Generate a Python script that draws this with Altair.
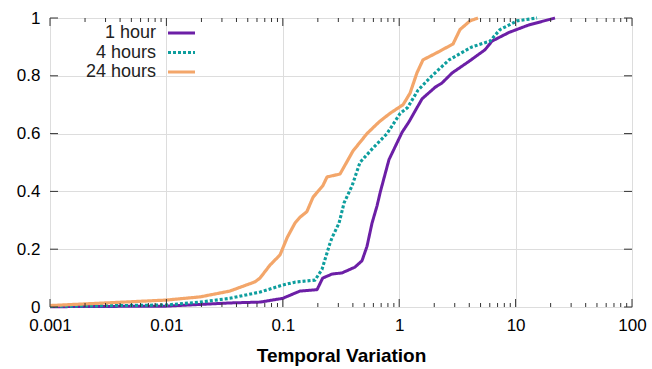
import altair as alt
import pandas as pd

series_names = ["1 hour", "4 hours", "24 hours"]
series_colors = ["#6c1fa6", "#0e9e9e", "#f3a66a"]

x_1h = [0.001, 0.01, 0.035, 0.064, 0.1, 0.14, 0.197, 0.22, 0.265, 0.323, 0.417, 0.479,
        0.529, 0.584, 0.645, 0.69, 0.817, 1.06, 1.21, 1.57, 2.03, 2.33, 2.85, 3.98,
        5.46, 6.27, 8.77, 13.0, 21.8]
y_1h = [0.001, 0.003, 0.014, 0.017, 0.03, 0.055, 0.06, 0.10, 0.114, 0.118, 0.138, 0.16,
        0.21, 0.29, 0.35, 0.40, 0.51, 0.605, 0.64, 0.72, 0.76, 0.775, 0.81, 0.85,
        0.89, 0.92, 0.95, 0.976, 1.0]

x_4h = [0.001, 0.01, 0.0195, 0.035, 0.064, 0.1, 0.127, 0.189, 0.217, 0.254, 0.265, 0.304,
        0.336, 0.394, 0.46, 0.595, 0.786, 1.02, 1.18, 1.45, 1.91, 2.68, 4.22, 6.02,
        7.35, 10.3, 15.3]
y_4h = [0.002, 0.007, 0.017, 0.03, 0.052, 0.076, 0.086, 0.093, 0.13, 0.22, 0.24, 0.29,
        0.36, 0.42, 0.50, 0.55, 0.60, 0.67, 0.69, 0.75, 0.80, 0.855, 0.90, 0.92,
        0.96, 0.99, 1.0]

x_24h = [0.001, 0.01, 0.0195, 0.035, 0.0577, 0.0637, 0.0776, 0.0946, 0.109, 0.127, 0.14,
         0.161, 0.182, 0.221, 0.24, 0.31, 0.401, 0.529, 0.67, 0.833, 1.08, 1.24, 1.42,
         1.6, 2.11, 2.9, 3.33, 4.06, 4.75]
y_24h = [0.005, 0.024, 0.035, 0.055, 0.087, 0.10, 0.145, 0.18, 0.24, 0.29, 0.31,
         0.33, 0.38, 0.42, 0.45, 0.46, 0.54, 0.60, 0.64, 0.67, 0.70, 0.74, 0.81,
         0.855, 0.88, 0.91, 0.96, 0.99, 1.0]

x_major = [0.001, 0.01, 0.1, 1, 10, 100]
x_minor = [d * m for d in [0.001, 0.01, 0.1, 1, 10] for m in range(2, 10)]
y_major = [0, 0.2, 0.4, 0.6, 0.8, 1]

W, H = 582, 289
FONT = "Liberation Sans"

rows = []
for name, xs, ys in zip(series_names, [x_1h, x_4h, x_24h], [y_1h, y_4h, y_24h]):
    for i, (a, b) in enumerate(zip(xs, ys)):
        rows.append({"series": name, "v": a, "cdf": b, "order": i})
df = pd.DataFrame(rows)

xscale = alt.Scale(type="log", domain=[0.001, 100], nice=False)
yscale = alt.Scale(domain=[0, 1], nice=False)
color = alt.Color("series:N", scale=alt.Scale(domain=series_names, range=series_colors), legend=None)
dash = alt.StrokeDash("series:N", scale=alt.Scale(domain=series_names, range=[[1, 0], [3, 2], [1, 0]]), legend=None)
width = alt.StrokeWidth("series:O", scale=alt.Scale(domain=series_names, range=[3, 3.2, 2.5]), legend=None)

lines = alt.Chart(df).mark_line(strokeCap="butt", strokeJoin="round").encode(
    x=alt.X("v:Q", scale=xscale,
            axis=alt.Axis(values=x_major, title="Temporal Variation", grid=True, ticks=False,
                          domain=False, labelExpr="format(datum.value, '~g')",
                          labelFontSize=17, labelPadding=10, titleFontSize=19,
                          titleFontWeight="bold", titlePadding=13, labelFlush=False)),
    y=alt.Y("cdf:Q", scale=yscale,
            axis=alt.Axis(values=y_major, title=None, grid=True, ticks=False, domain=False,
                          labelExpr="format(datum.value, '~g')", labelFontSize=17,
                          labelPadding=10)),
    color=color, strokeDash=dash, strokeWidth=width,
    order="order:Q",
    detail="series:N",
)

xmaj = pd.DataFrame({"v": x_major})
xmin = pd.DataFrame({"v": x_minor})
ymaj = pd.DataFrame({"t": y_major})

tick_color = "#333333"
xt = []
for d, ln in [(xmaj, 8), (xmin, 4)]:
    xt.append(alt.Chart(d).mark_rule(color=tick_color, strokeWidth=1).encode(
        x=alt.X("v:Q", scale=xscale), y=alt.value(H), y2=alt.value(H - ln)))
    xt.append(alt.Chart(d).mark_rule(color=tick_color, strokeWidth=1).encode(
        x=alt.X("v:Q", scale=xscale), y=alt.value(0), y2=alt.value(ln)))
yt = [
    alt.Chart(ymaj).mark_rule(color=tick_color, strokeWidth=1).encode(
        y=alt.Y("t:Q", scale=yscale), x=alt.value(0), x2=alt.value(8)),
    alt.Chart(ymaj).mark_rule(color=tick_color, strokeWidth=1).encode(
        y=alt.Y("t:Q", scale=yscale), x=alt.value(W - 8), x2=alt.value(W)),
]

main = alt.layer(lines, *xt, *yt)

leg_df = pd.DataFrame({"series": series_names})
ly = alt.Y("series:N", scale=alt.Scale(type="point", domain=series_names, range=[15, 54], padding=0),
           axis=None)
leg_text = alt.Chart(leg_df).mark_text(align="right", baseline="middle", fontSize=18,
                                       font=FONT, color="#222222").encode(
    x=alt.value(106), y=ly, text="series:N")
leg_line = alt.Chart(leg_df).mark_rule(strokeCap="butt").encode(
    x=alt.value(118), x2=alt.value(145), y=ly, color=color, strokeDash=dash, strokeWidth=width)

chart = alt.layer(main, leg_text, leg_line).resolve_scale(y="independent").properties(
    width=W, height=H, autosize=alt.AutoSizeParams(type="none"),
    padding={"left": 50, "top": 18, "right": 20, "bottom": 62},
).configure_view(stroke="#333333", strokeWidth=1.5).configure_axis(
    labelFont=FONT, titleFont=FONT, labelColor="#222222", titleColor="#111111",
    gridColor="#d9d9d9", gridWidth=1,
).configure(background="white")

chart.save("out.html", embed_options={"renderer": "svg", "actions": False})
